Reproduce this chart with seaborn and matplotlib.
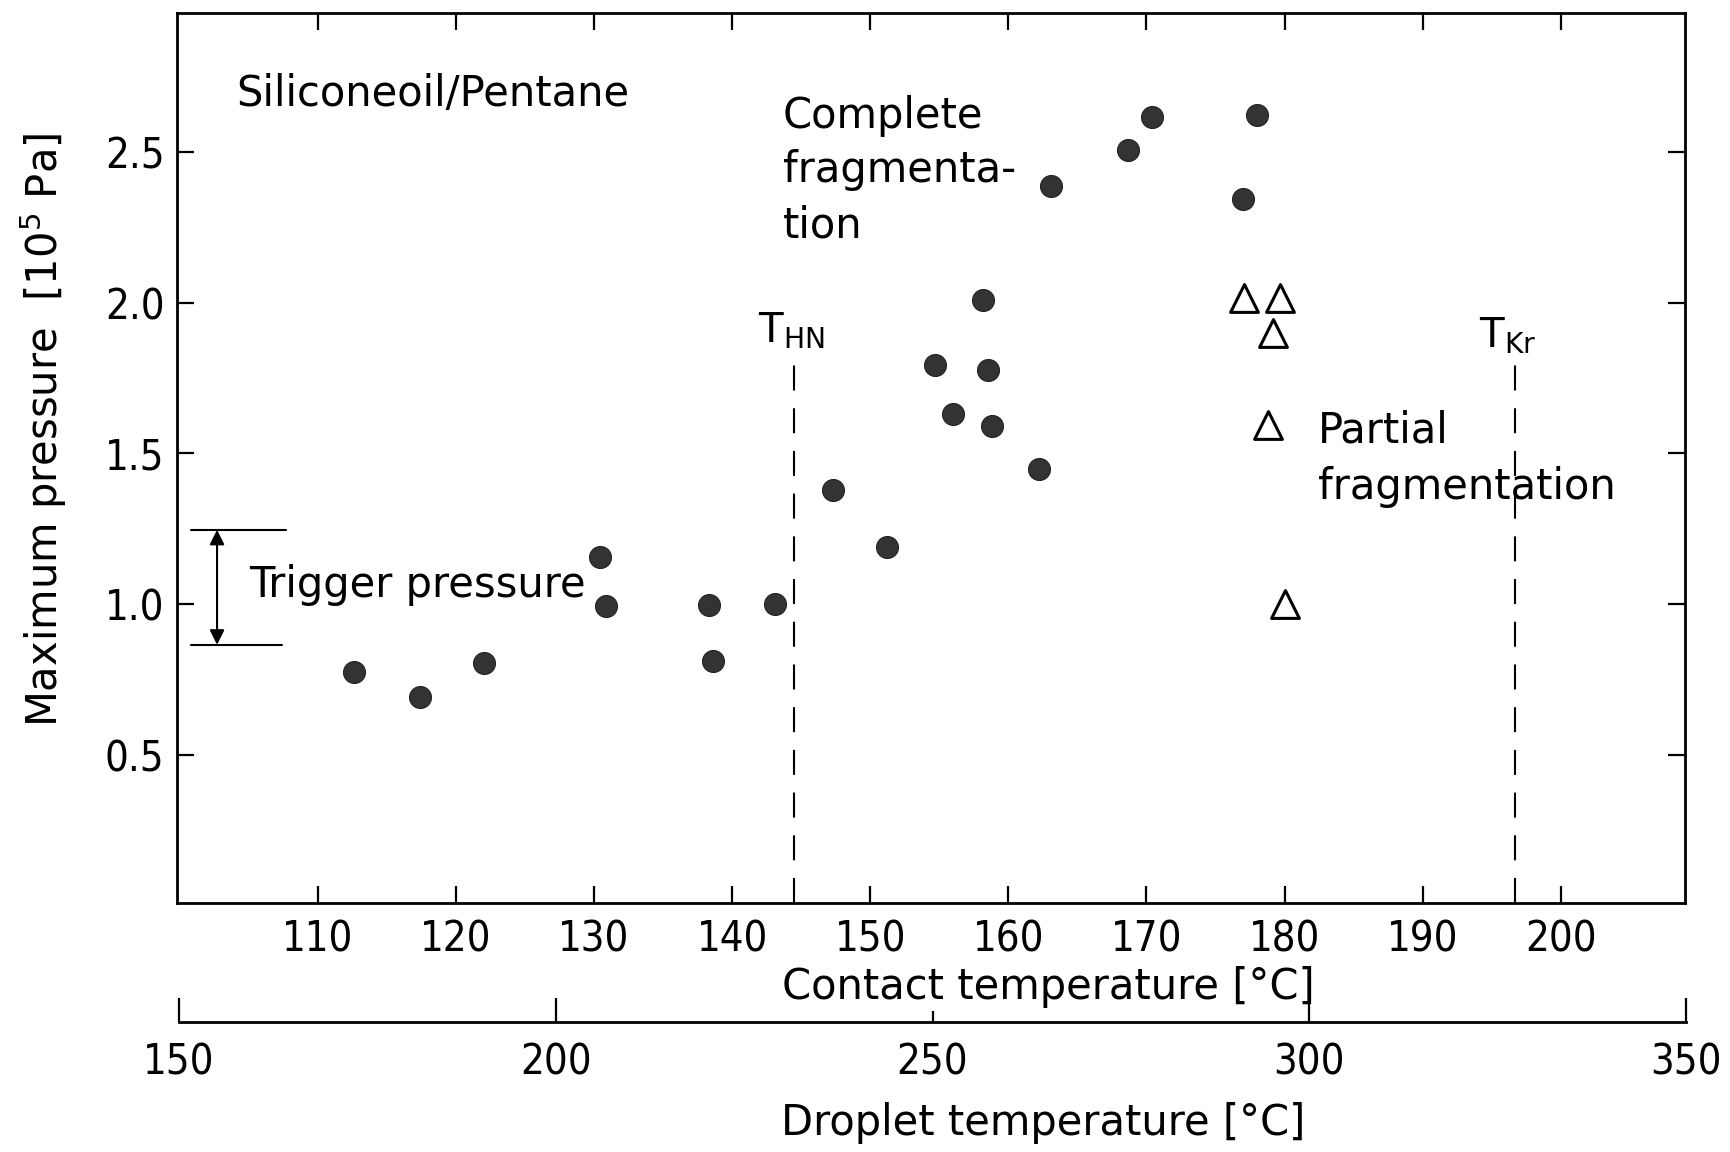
import matplotlib
matplotlib.use("Agg")
import matplotlib.pyplot as plt
import seaborn as sns
import pandas as pd

# ---------------- data ----------------
complete_contact = [112.6, 117.4, 122.0, 130.4, 130.9, 138.3, 138.6, 143.1,
                    147.3, 151.2, 154.7, 156.0, 158.2, 158.5, 158.8, 162.2,
                    163.1, 168.7, 170.4, 177.0, 178.0]
complete_pressure = [0.775, 0.694, 0.804, 1.156, 0.995, 0.998, 0.811, 1.000,
                     1.379, 1.189, 1.793, 1.632, 2.009, 1.778, 1.592, 1.449,
                     2.386, 2.507, 2.614, 2.342, 2.621]
partial_contact = [177.1, 179.7, 179.2, 178.8, 180.0]
partial_pressure = [2.016, 2.016, 1.900, 1.595, 1.000]

contact_ticks = [110, 120, 130, 140, 150, 160, 170, 180, 190, 200]
pressure_ticks = [0.5, 1.0, 1.5, 2.0, 2.5]
droplet_major = [150, 200, 300, 350]
droplet_minor = [250]

T_HN = 144.5
T_Kr = 196.7
T_line_top = 1.80
trigger_low, trigger_high = 0.866, 1.247

df_c = pd.DataFrame({"contact": complete_contact, "pressure": complete_pressure})
df_p = pd.DataFrame({"contact": partial_contact, "pressure": partial_pressure})

# ---------------- style ----------------
sns.set_style("ticks")
plt.rcParams["font.family"] = ["DejaVu Sans"]
plt.rcParams.update({
    "axes.linewidth": 2.0,
    "text.color": "black",
    "axes.labelcolor": "black",
    "axes.edgecolor": "black",
    "xtick.color": "black",
    "ytick.color": "black",
})
tick_font = dict(family=["DejaVu Sans"], fontstretch="condensed", fontsize=30)

fig = plt.figure(figsize=(17.3, 11.52), dpi=100)
L, R = 177 / 1730, 1685 / 1730
B, T = 1 - 903 / 1152, 1 - 13 / 1152
ax = fig.add_axes([L, B, R - L, T - B])

sns.scatterplot(data=df_c, x="contact", y="pressure", ax=ax, s=250,
                color="#333333", edgecolor="#222222", linewidth=0.8, zorder=3)
sns.scatterplot(data=df_p, x="contact", y="pressure", ax=ax, marker="^", s=400,
                color="white", edgecolor="black", linewidth=2.2, zorder=3)

ax.set_xlim(99.8, 209.0)
ax.set_ylim(0.01, 2.96)
ax.set_xticks(contact_ticks)
ax.set_xticklabels([str(t) for t in contact_ticks], **tick_font)
ax.set_yticks(pressure_ticks)
ax.set_yticklabels([f"{t:.1f}" for t in pressure_ticks], **tick_font)
ax.tick_params(axis="both", direction="in", length=12, width=1.6,
               top=True, right=True, color="black")
ax.tick_params(axis="x", pad=11)
ax.tick_params(axis="y", pad=9)
ax.set_xlabel("")
ax.set_ylabel("")

# dashed characteristic temperatures
for tx in (T_HN, T_Kr):
    ax.plot([tx, tx], [0.01, T_line_top], color="black", lw=1.5,
            ls=(0, (12, 8.5)), zorder=2)
ax.text(141.9, 1.907, r"T$_{\mathrm{HN}}$", fontsize=29, ha="left", va="center")
ax.text(194.1, 1.888, r"T$_{\mathrm{Kr}}$", fontsize=29, ha="left", va="center")

# trigger pressure bracket
ax.plot([100.8, 107.7], [trigger_high, trigger_high], color="black", lw=1.5)
ax.plot([100.8, 107.4], [trigger_low, trigger_low], color="black", lw=1.5)
ax.annotate("", xy=(102.7, trigger_low), xytext=(102.7, trigger_high),
            arrowprops=dict(arrowstyle="<|-|>", lw=1.5, color="black",
                            mutation_scale=22, shrinkA=0, shrinkB=0))
ax.text(105.0, 1.064, "Trigger pressure", fontsize=30, ha="left", va="center")

# annotations
ax.text(104.1, 2.692, "Siliconeoil/Pentane", fontsize=30, ha="left", va="center")
for txt, yy in zip(["Complete", "fragmenta-", "tion"], [2.62, 2.44, 2.257]):
    ax.text(143.65, yy, txt, fontsize=30, ha="left", va="center")
for txt, yy in zip(["Partial", "fragmentation"], [1.575, 1.39]):
    ax.text(182.4, yy, txt, fontsize=30, ha="left", va="center")

# droplet temperature axis (second scale below)
ax2 = fig.add_axes([179 / 1730, 1 - 1022 / 1152, (1686 - 179) / 1730, 0.0005])
ax2.set_facecolor("none")
for s in ("top", "left", "right"):
    ax2.spines[s].set_visible(False)
ax2.set_xlim(150, 350)
ax2.set_yticks([])
ax2.set_xticks(droplet_major)
ax2.set_xticklabels([str(t) for t in droplet_major], **tick_font)
ax2.set_xticks(droplet_minor, minor=True)
ax2.set_xticklabels([str(t) for t in droplet_minor], minor=True, **tick_font)
ax2.tick_params(axis="x", which="major", direction="in", length=17, width=1.6, pad=14)
ax2.tick_params(axis="x", which="minor", direction="in", length=8, width=1.6, pad=14)

# axis labels
fig.text(1048 / 1730, 1 - 987 / 1152, "Contact temperature [°C]", fontsize=30,
         ha="center", va="center")
fig.text(1043 / 1730, 1 - 1123 / 1152, "Droplet temperature [°C]", fontsize=30,
         ha="center", va="center")
fig.text(44 / 1730, 1 - 430 / 1152, r"Maximum pressure  [10$^5$ Pa]", fontsize=30,
         ha="center", va="center", rotation=90)

fig.savefig("out.png", dpi=100, facecolor="white")
